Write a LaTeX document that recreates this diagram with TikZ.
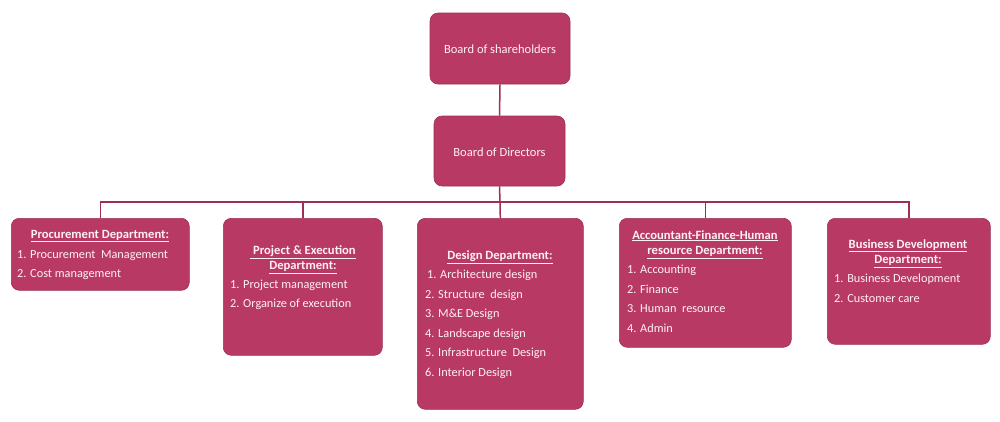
\documentclass[tikz,border=0pt]{standalone}
\usepackage{fontspec}
\setmainfont{Carlito}
\definecolor{boxfill}{RGB}{184,58,100}
\definecolor{linecol}{RGB}{160,45,85}
\definecolor{txt}{RGB}{255,240,245}
\begin{document}
\begin{tikzpicture}[x=1pt,y=-1pt,
  box/.style={draw=boxfill!85!black, line width=0.6pt, fill=boxfill, rounded corners=8pt, inner sep=0pt},
  conn/.style={draw=linecol, line width=1.5pt},
  btxt/.style={text=txt, font=\fontsize{12.5}{14}\selectfont, inner sep=0pt},
  ttl/.style={text=txt, font=\bfseries\fontsize{12.6}{15.5}\selectfont, align=center, inner sep=0pt},
  item/.style={text=txt, font=\fontsize{12.3}{13}\selectfont, anchor=west, inner sep=0pt, text height=8pt, text depth=2.5pt}]
\useasboundingbox (0,0) rectangle (1000,421);
% top boxes
\node[box, minimum width=140pt, minimum height=71pt] (bs) at (500,48.5) {};
\node[btxt] (bst) at (500,49) {Board of shareholders};
\node[box, minimum width=131pt, minimum height=70pt] (bd) at (499.5,151) {};
\node[btxt] (bdt) at (499.5,152) {Board of Directors};
% department boxes
\node[box, anchor=north west, minimum width=178pt, minimum height=72pt] (pr) at (11,218) {};
\node[box, anchor=north west, minimum width=159pt, minimum height=137pt] (pe) at (223,218) {};
\node[box, anchor=north west, minimum width=166pt, minimum height=191pt] (de) at (417,218) {};
\node[box, anchor=north west, minimum width=172pt, minimum height=129pt] (ac) at (619,218) {};
\node[box, anchor=north west, minimum width=163pt, minimum height=126pt] (bu) at (827,218) {};
% connectors
\coordinate (hub) at (500,202);
\draw[conn] (bs.south) -- (bd.north);
\draw[conn] (bd.south) -- (hub);
\draw[conn] (pr.north) |- (hub) -| (bu.north);
\draw[conn] (pe.north) -- (pe.north |- hub);
\draw[conn] (hub) -- (de.north);
\draw[conn] (ac.north) -- (ac.north |- hub);
% procurement text
\node[ttl] (prt) at (100,236) {\underline{Procurement Department:}};
\node[item] (pr1) at (17,256) {1. Procurement\ \ Management};
\node[item] (pr2) at (17,275) {2. Cost management};
% project
\node[ttl] (pet) at (303,259.5) {\underline{\ Project \& Execution}\\\underline{Department:}};
\node[item] (pe1) at (230,286) {1. Project management};
\node[item] (pe2) at (230,305) {2. Organize of execution};
% design
\node[ttl] (det) at (500,257) {\underline{Design Department:}};
\node[item] (de1) at (427,276) {1. Architecture design};
\node[item] (de2) at (425,296) {2. Structure\ \ design};
\node[item] (de3) at (425,315) {3. M\&E Design};
\node[item] (de4) at (425,335) {4. Landscape design};
\node[item] (de5) at (425,354) {5. Infrastructure\ \ Design};
\node[item] (de6) at (425,374) {6. Interior Design};
% accountant
\node[ttl] (act) at (705,244.5) {\underline{Accountant-Finance-Human}\\\underline{resource Department:}};
\node[item] (ac1) at (627,271) {1. Accounting};
\node[item] (ac2) at (627,291) {2. Finance};
\node[item] (ac3) at (627,310) {3. Human\ \ resource};
\node[item] (ac4) at (627,330) {4. Admin};
% business
\node[ttl] (but) at (908,253.5) {\underline{Business Development}\\\underline{Department:}};
\node[item] (bu1) at (834,280) {1. Business Development};
\node[item] (bu2) at (834,300) {2. Customer care};
\end{tikzpicture}
\end{document}
